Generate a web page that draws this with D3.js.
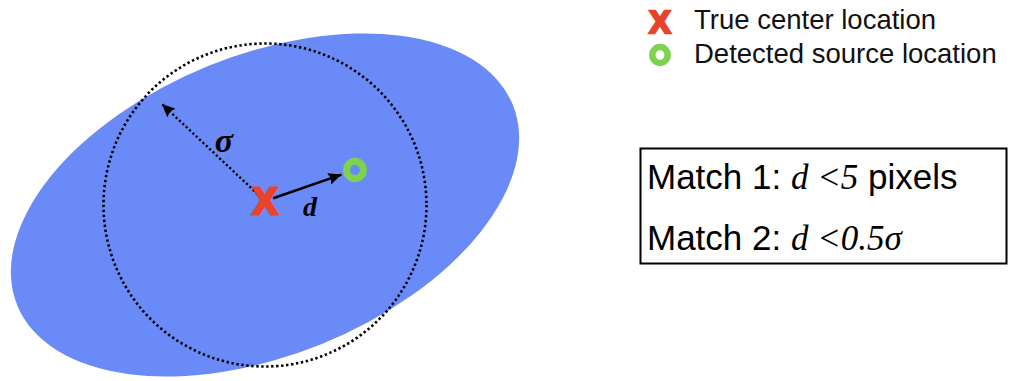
<!DOCTYPE html>
<html><head><meta charset="utf-8">
<script src="https://cdn.jsdelivr.net/npm/d3@7/dist/d3.min.js"></script>
<style>body{margin:0;background:#fff}svg{display:block}</style>
</head><body>
<script>
// ---- data (diagram units: 1 unit = sigma) ----
const sigma = [1];
const sourceEllipse = [{a: 1.655, b: 0.93, angle: 22, cx: 0, cy: 0}];
const trueCenter = [{x: 0, y: 0.025}];
const detected = [{x: 0.557, y: 0.217}];
const sigmaArrowEnd = [{x: -0.638, y: 0.625}];
const legendLabels = ["True center location", "Detected source location"];
const matchRules = [
  {name: "Match 1: ", expr: "d <5", unit: " pixels"},
  {name: "Match 2: ", expr: "d <0.5σ", unit: ""}
];

const W = 1013, H = 381;
const svg = d3.select("body").append("svg").attr("width", W).attr("height", H);
const defs = svg.append("defs");
defs.append("marker").attr("id","ah").attr("markerUnits","userSpaceOnUse")
  .attr("markerWidth",14).attr("markerHeight",12).attr("refX",13).attr("refY",6)
  .attr("orient","auto").append("path").attr("d","M0,0 L13,6 L0,12 L2,6 Z").attr("fill","#000");

const px = 161.5;
const x = d3.scaleLinear().domain([-1, 1]).range([265 - px, 265 + px]);
const y = d3.scaleLinear().domain([-1, 1]).range([205 + px, 205 - px]);

const RED = "#e8432b", GREEN = "#7dd24e", BLUE = "#6a8bf7";

// ellipse
svg.selectAll(".src").data(sourceEllipse).join("ellipse")
  .attr("cx", d => x(d.cx)).attr("cy", d => y(d.cy))
  .attr("rx", d => x(d.a) - x(0)).attr("ry", d => x(d.b) - x(0))
  .attr("transform", d => `rotate(${-d.angle},${x(d.cx)},${y(d.cy)})`)
  .attr("fill", BLUE);

// sigma circle
svg.selectAll(".sig").data(sigma).join("circle")
  .attr("cx", x(0)).attr("cy", y(0)).attr("r", d => x(d) - x(0))
  .attr("fill", "none").attr("stroke", "#000").attr("stroke-width", 2.6)
  .attr("stroke-dasharray", "2.4 2.6");

// sigma arrow (dotted)
const tc = trueCenter[0];
svg.selectAll(".sa").data(sigmaArrowEnd).join("line")
  .attr("x1", d => x(tc.x + (d.x - tc.x) * 0.07)).attr("y1", d => y(tc.y + (d.y - tc.y) * 0.07))
  .attr("x2", d => x(d.x)).attr("y2", d => y(d.y))
  .attr("stroke", "#000").attr("stroke-width", 2.4).attr("stroke-dasharray", "2.2 2.4")
  .attr("marker-end", "url(#ah)");

// d arrow
svg.selectAll(".da").data(detected).join("line")
  .attr("x1", d => x(tc.x + (d.x - tc.x) * 0.09)).attr("y1", d => y(tc.y + (d.y - tc.y) * 0.09))
  .attr("x2", d => x(tc.x + (d.x - tc.x) * 0.85)).attr("y2", d => y(tc.y + (d.y - tc.y) * 0.85))
  .attr("stroke", "#000").attr("stroke-width", 2.6).attr("marker-end", "url(#ah)");

// markers
function drawX(g, cx, cy, size) {
  g.append("text").attr("x", cx).attr("y", cy + size * 0.36)
    .attr("text-anchor", "middle").attr("font-family", "Liberation Sans, Arial, sans-serif")
    .attr("font-weight", "bold").attr("font-size", size).attr("fill", RED)
    .attr("stroke", RED).attr("stroke-width", size * 0.08).attr("stroke-linejoin", "miter").text("X");
}
function drawO(g, cx, cy, r) {
  g.append("ellipse").attr("cx", cx).attr("cy", cy).attr("rx", r * 0.96).attr("ry", r)
    .attr("fill", "none").attr("stroke", GREEN).attr("stroke-width", r * 0.8);
}
trueCenter.forEach(d => drawX(svg, x(d.x), y(d.y), 37));
detected.forEach(d => drawO(svg, x(d.x), y(d.y), 8.8));

// labels sigma, d
svg.append("text").attr("x", 224).attr("y", 152).attr("text-anchor", "middle")
  .attr("font-family", "Liberation Serif, Times New Roman, serif").attr("font-style", "italic")
  .attr("font-weight", "bold").attr("font-size", 34).text("σ");
svg.append("text").attr("x", 310).attr("y", 216).attr("text-anchor", "middle")
  .attr("font-family", "Liberation Serif, Times New Roman, serif").attr("font-style", "italic")
  .attr("font-weight", "bold").attr("font-size", 28).text("d");

// legend
const lg = svg.append("g");
legendLabels.forEach((t, i) => {
  const cy = 21 + i * 34;
  if (i === 0) drawX(lg, 660, cy, 32); else drawO(lg, 660, cy, 8);
  lg.append("text").attr("x", 694).attr("y", cy + 8)
    .attr("font-family", "Liberation Sans, Arial, sans-serif").attr("font-size", 27.5)
    .attr("fill", "#111").text(t);
});

// match box
const box = svg.append("g");
box.append("rect").attr("x", 640.5).attr("y", 148.5).attr("width", 366).attr("height", 115)
  .attr("fill", "#fff").attr("stroke", "#000").attr("stroke-width", 2);
matchRules.forEach((m, i) => {
  const t = box.append("text").attr("x", 647).attr("y", 189 + i * 61)
    .attr("font-family", "Liberation Sans, Arial, sans-serif").attr("font-size", 35).attr("fill", "#000");
  t.append("tspan").text(m.name);
  t.append("tspan").attr("font-family", "Liberation Serif, Times New Roman, serif")
    .attr("font-style", "italic").text(m.expr);
  if (m.unit) t.append("tspan").text(m.unit);
});
</script>
</body></html>
